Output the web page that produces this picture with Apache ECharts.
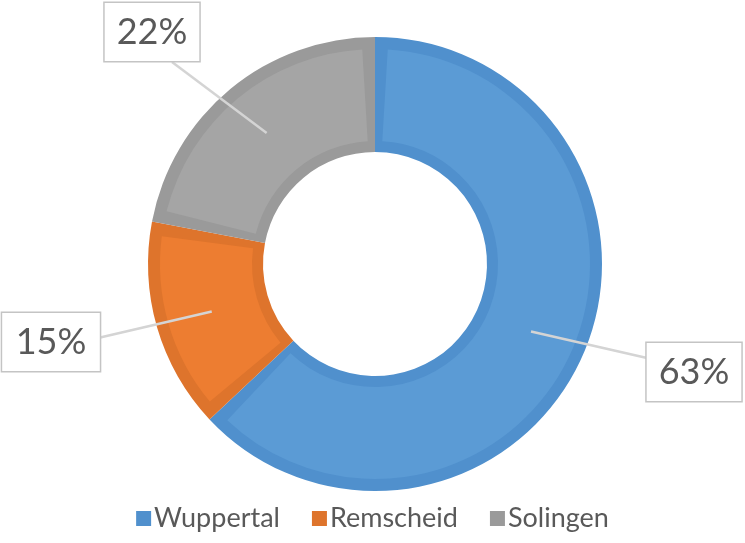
<!DOCTYPE html>
<html>
<head>
<meta charset="utf-8">
<script src="https://cdn.jsdelivr.net/npm/echarts@6/dist/echarts.min.js"></script>
<style>
  html, body { margin: 0; padding: 0; background: #fff; }
  #chart { width: 745px; height: 543px; }
</style>
</head>
<body>
<div id="chart"></div>
<script>
    'use strict';
    // data
    var cities = ['Wuppertal', 'Remscheid', 'Solingen'];
    var shares = [63, 15, 22];
    var fillColors = ['#5b9bd5', '#ed7d31', '#a5a5a5'];
    var edgeColors = ['#5090cd', '#de742c', '#9a9a9a'];

    // layout
    var CX = 375, CY = 264;
    var ANCHOR_R = 170;
    var RIM_GAP_DEG = 3.4;   // half of the dark seam between two slices
    var labelBoxes = [[694, 372], [51, 342], [152, 32]];
    var lineEnds = [[647, 358], [98, 338], [172, 62]];

    var total = shares.reduce(function (a, b) { return a + b; }, 0);

    function anchorPoint(idx) {
        var before = 0;
        for (var i = 0; i < idx; i++) { before += shares[i]; }
        var mid = (before + shares[idx] / 2) / total * Math.PI * 2;
        return [CX + Math.sin(mid) * ANCHOR_R, CY - Math.cos(mid) * ANCHOR_R];
    }

    function pieData(colors) {
        return cities.map(function (c, i) {
            return { name: c, value: shares[i], itemStyle: { color: colors ? colors[i] : 'rgba(0,0,0,0)' } };
        });
    }

    // light body: each slice narrowed by a transparent spacer on both sides
    function innerData() {
        var h = RIM_GAP_DEG / 360 * total;
        var out = [];
        cities.forEach(function (c, i) {
            out.push({ name: '', value: h, itemStyle: { color: 'rgba(0,0,0,0)' } });
            out.push({ name: c, value: shares[i] - 2 * h, itemStyle: { color: fillColors[i] } });
            out.push({ name: '', value: h, itemStyle: { color: 'rgba(0,0,0,0)' } });
        });
        return out;
    }

    var myChart = echarts.init(document.getElementById('chart'), null, { renderer: 'canvas' });

    var option = {
        animation: false,
        legend: {
            bottom: 6,
            left: 'center',
            itemWidth: 15,
            itemHeight: 15,
            itemGap: 32,
            icon: 'rect',
            textStyle: { fontFamily: 'Lato', fontSize: 27, color: '#595959', padding: [0, 0, 0, -2] },
            data: cities
        },
        series: [
            {
                // darker rim
                name: 'edge',
                type: 'pie',
                z: 2,
                center: [CX, CY],
                radius: [112, 227],
                startAngle: 90,
                clockwise: true,
                silent: true,
                label: { show: false },
                labelLine: { show: false },
                data: pieData(edgeColors),
                emphasis: { disabled: true }
            },
            {
                // lighter body of each slice
                name: 'fill',
                type: 'pie',
                z: 3,
                center: [CX, CY],
                radius: [123, 215],
                startAngle: 90,
                clockwise: true,
                silent: true,
                label: { show: false },
                labelLine: { show: false },
                data: innerData(),
                emphasis: { disabled: true }
            },
            {
                // transparent copy carrying the callouts on top
                name: 'labels',
                type: 'pie',
                z: 5,
                center: [CX, CY],
                radius: [112, 227],
                startAngle: 90,
                clockwise: true,
                silent: true,
                data: pieData(null),
                label: {
                    show: true,
                    position: 'outside',
                    formatter: '{d}%',
                    fontFamily: 'Lato',
                    fontSize: 36,
                    color: '#595959',
                    backgroundColor: '#fff',
                    borderColor: '#c4c4c4',
                    borderWidth: 1.5,
                    padding: [10, 12, 8, 12],
                    lineHeight: 40
                },
                labelLine: {
                    show: true,
                    lineStyle: { color: '#d4d4d4', width: 2.5 }
                },
                labelLayout: function (params) {
                    var i = params.dataIndex;
                    return {
                        x: labelBoxes[i][0],
                        y: labelBoxes[i][1],
                        align: 'center',
                        verticalAlign: 'middle',
                        labelLinePoints: [anchorPoint(i), lineEnds[i], lineEnds[i]]
                    };
                },
                emphasis: { disabled: true }
            }
        ]
    };

    myChart.setOption(option);
</script>
</body>
</html>
